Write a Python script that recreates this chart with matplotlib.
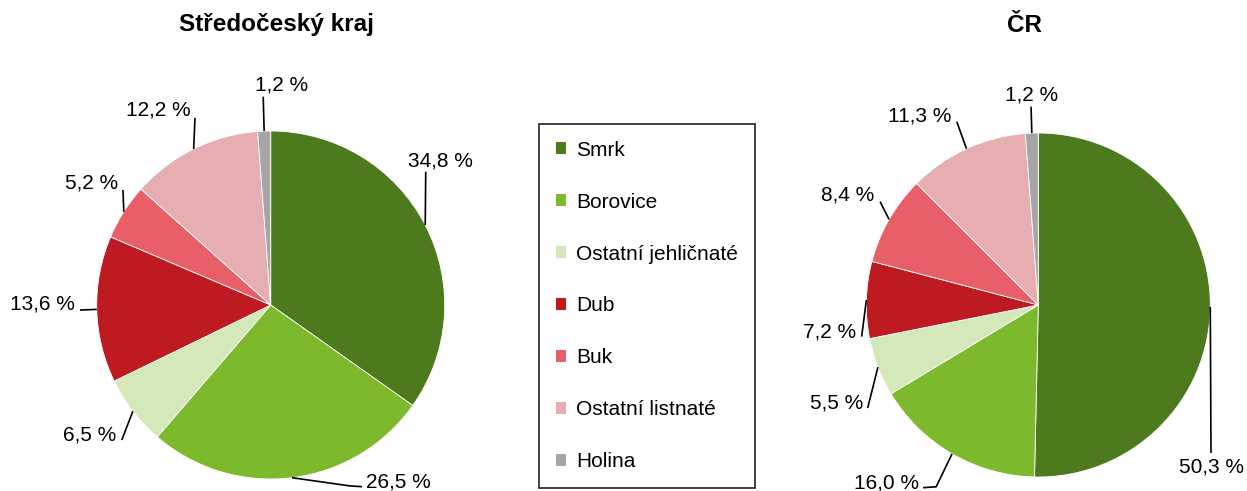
import matplotlib.pyplot as plt
import numpy as np
from matplotlib.patches import Patch

plt.rcParams['font.family'] = ['Liberation Sans', 'DejaVu Sans']

categories = ["Smrk", "Borovice", "Ostatní jehličnaté", "Dub", "Buk",
              "Ostatní listnaté", "Holina"]
stredocesky = [34.8, 26.5, 6.5, 13.6, 5.2, 12.2, 1.2]
cr = [50.3, 16.0, 5.5, 7.2, 8.4, 11.3, 1.2]
colors = ["#4E7A1E", "#7DB92D", "#D4E8BA", "#BE1A21", "#E85F68",
          "#E6AEB1", "#A6A6A6"]

# label placement in pie-radius units: leader line points (after the wedge edge), text centre
left_layout = [
    ([(0.891, 0.766)], (0.973, 0.829)),
    ([(0.457, -1.040), (0.525, -1.044)], (0.735, -1.015)),
    ([(-0.856, -0.776)], (-1.039, -0.747)),
    ([(-1.096, -0.029)], (-1.309, 0.006)),
    ([(-0.849, 0.661)], (-1.029, 0.701)),
    ([(-0.435, 1.075)], (-0.648, 1.121)),
    ([(-0.043, 1.197)], (0.063, 1.264)),
]
right_layout = [
    ([(1.004, -0.860)], (1.008, -0.940)),
    ([(-0.594, -1.057), (-0.670, -1.062)], (-0.881, -1.035)),
    ([(-0.992, -0.599)], (-1.172, -0.570)),
    ([(-1.027, -0.184)], (-1.211, -0.155)),
    ([(-0.920, 0.601)], (-1.106, 0.640)),
    ([(-0.474, 1.066)], (-0.688, 1.099)),
    ([(-0.042, 1.153)], (-0.038, 1.221)),
]

W, H = 1247, 491
fig = plt.figure(figsize=(W / 100, H / 100), dpi=100)


def draw_pie(cx, cy, r, values, layout, title, title_x):
    ax = fig.add_axes([(cx - 1.5 * r) / W, (H - cy - 1.5 * r) / H, 3 * r / W, 3 * r / H])
    wedges, _ = ax.pie(values, colors=colors, startangle=90, counterclock=False,
                       radius=1, wedgeprops=dict(linewidth=0.6, edgecolor="white"))
    ax.set_xlim(-1.5, 1.5)
    ax.set_ylim(-1.5, 1.5)
    for w, v, (pts, (tx, ty)) in zip(wedges, values, layout):
        ang = np.deg2rad((w.theta1 + w.theta2) / 2)
        xs = [np.cos(ang)] + [p[0] for p in pts]
        ys = [np.sin(ang)] + [p[1] for p in pts]
        ax.plot(xs, ys, color="black", lw=1.2, solid_capstyle="butt")
        ax.text(tx, ty, f"{v:.1f} %".replace(".", ","), ha="center", va="center",
                fontsize=15)
    fig.text(title_x / W, 1 - 25 / H, title, ha="center", va="center",
             fontsize=17.5, fontweight="bold")
    return ax


draw_pie(270.7, 305, 174, stredocesky, left_layout, "Středočeský kraj", 276.5)
draw_pie(1038.3, 305, 172, cr, right_layout, "ČR", 1024)

handles = [Patch(facecolor=c, edgecolor="none", label=n) for c, n in zip(colors, categories)]
leg = fig.legend(handles=handles, loc="upper left", bbox_to_anchor=(539 / W, 1 - 124 / H),
                 fontsize=15, frameon=True, fancybox=False, edgecolor="black",
                 borderpad=0.8, labelspacing=1.58, handlelength=0.5, handleheight=0.5,
                 handletextpad=0.5, borderaxespad=0)
leg.get_frame().set_linewidth(1.3)

fig.savefig("out.png", dpi=100)
